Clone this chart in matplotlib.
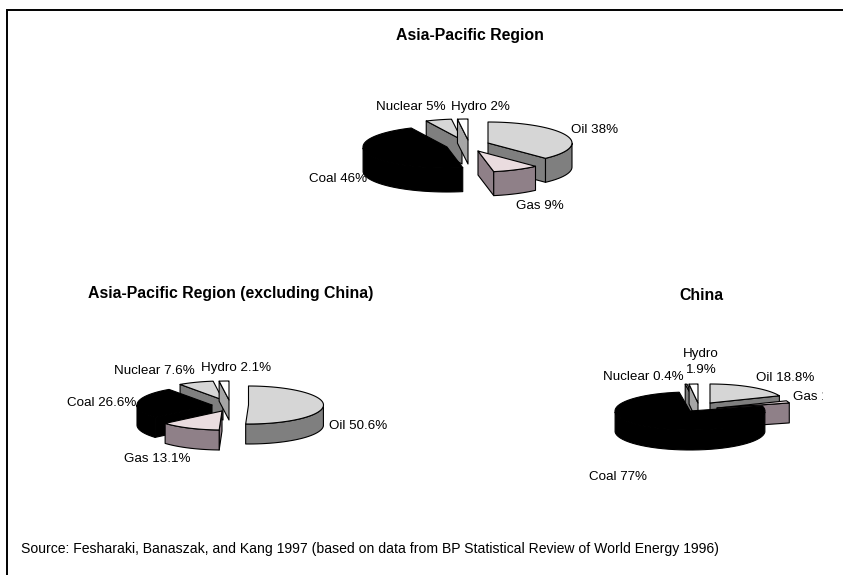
import numpy as np
import matplotlib
matplotlib.use("Agg")
import matplotlib.pyplot as plt
from matplotlib.patches import Polygon, Rectangle

plt.rcParams["font.family"] = ["Liberation Sans", "DejaVu Sans"]

# Primary energy shares, in percent, clockwise from twelve o'clock
fuels = ["Oil", "Gas", "Coal", "Nuclear", "Hydro"]
asia_pacific = [38, 9, 46, 5, 2]
excluding_china = [50.6, 13.1, 26.6, 7.6, 2.1]
china = [18.8, 1.9, 77, 0.4, 1.9]

asia_labels = ["Oil 38%", "Gas 9%", "Coal 46%", "Nuclear 5%", "Hydro 2%"]
excl_labels = ["Oil 50.6%", "Gas 13.1%", "Coal 26.6%", "Nuclear 7.6%", "Hydro 2.1%"]
china_labels = ["Oil 18.8%", "Gas 1.9%", "Coal 77%", "Nuclear 0.4%", "Hydro\n1.9%"]

# Slice colours: (top face, side wall)
TOP = {"Oil": "#d6d6d6", "Gas": "#eadcdf", "Coal": "#000000",
       "Nuclear": "#d6d6d6", "Hydro": "#ffffff"}
SIDE = {"Oil": "#7f7f7f", "Gas": "#8f8088", "Coal": "#000000",
        "Nuclear": "#7f7f7f", "Hydro": "#a6a6a6"}

W, H = 843, 575
fig = plt.figure(figsize=(W / 100, H / 100), dpi=100, facecolor="white")
ax = fig.add_axes([0, 0, 1, 1])
ax.set_xlim(0, W)
ax.set_ylim(H, 0)
ax.axis("off")


def draw_pie(values, apexes, rx, ry, depth):
    """Extruded, exploded pie: each slice gets its own apex on the canvas."""
    shares = np.asarray(values, dtype=float)
    edges = 90 - 360 * np.concatenate([[0], np.cumsum(shares) / shares.sum()])
    # slices further up the canvas are painted first
    for i in sorted(range(len(fuels)), key=lambda k: apexes[k][1]):
        fuel = fuels[i]
        cx, cy = apexes[i]
        start, end = edges[i], edges[i + 1]
        t = np.radians(np.linspace(start, end, 60))
        ax_x = cx + rx * np.cos(t)
        ax_y = cy - ry * np.sin(t)
        style = dict(edgecolor="black", linewidth=0.8, joinstyle="round")

        # radial cut faces turned towards the viewer
        if np.cos(np.radians(start)) < 0:
            ax.add_patch(Polygon([(cx, cy), (ax_x[0], ax_y[0]),
                                  (ax_x[0], ax_y[0] + depth), (cx, cy + depth)],
                                 facecolor=SIDE[fuel], **style))
        if np.cos(np.radians(end)) > 0:
            ax.add_patch(Polygon([(cx, cy), (ax_x[-1], ax_y[-1]),
                                  (ax_x[-1], ax_y[-1] + depth), (cx, cy + depth)],
                                 facecolor=SIDE[fuel], **style))

        # rim: only the arc lying on the near half of the ellipse
        front = np.sin(t) <= 0
        if front.any():
            xs, ys = ax_x[front], ax_y[front]
            rim = np.column_stack([np.r_[xs, xs[::-1]],
                                   np.r_[ys, ys[::-1] + depth]])
            ax.add_patch(Polygon(rim, facecolor=SIDE[fuel], **style))

        top = np.column_stack([np.r_[cx, ax_x], np.r_[cy, ax_y]])
        ax.add_patch(Polygon(top, facecolor=TOP[fuel], **style))


# Exploded slice origins: oil, gas, coal, nuclear, hydro
draw_pie(asia_pacific,
         [(488, 143), (478, 151), (447, 147), (462, 140), (468, 140)],
         84, 21, 24)
draw_pie(excluding_china,
         [(248.5, 405), (222, 411), (212, 405), (223, 400), (229, 400)],
         75, 19, 20)
draw_pie(china,
         [(710, 403), (717, 408), (690, 411), (696, 403), (698, 403)],
         75, 19, 20)

LABEL = dict(fontsize=9.6, color="black", va="center", ha="left")
TITLE = dict(fontsize=11.4, fontweight="bold", color="black", va="center", ha="center")

# Data labels, one list per pie in fuel order
for text, x, y in zip(asia_labels, [571, 516, 309, 376, 451], [130, 206, 179, 107, 107]):
    ax.text(x, y, text, **LABEL)
for text, x, y in zip(excl_labels, [329, 124, 67, 114, 201], [426, 459, 403, 371, 368]):
    ax.text(x, y, text, **LABEL)
for text, x, y in zip(china_labels[:4], [756, 793, 589, 603], [378, 397, 477, 377]):
    label = ax.text(x, y, text, **LABEL)
    # the gas label runs off the edge of its chart area
    label.set_clip_path(Rectangle((0, 0), 823, H, transform=ax.transData))
    label.set_clip_on(True)
ax.text(701, 362, china_labels[4], fontsize=9.6, va="center", ha="center",
        linespacing=1.35)

ax.text(470, 35.5, "Asia-Pacific Region", **TITLE)
ax.text(230.5, 293.5, "Asia-Pacific Region (excluding China)", **TITLE)
ax.text(701, 295.5, "China", **TITLE)
ax.text(21, 549.5, "Source: Fesharaki, Banaszak, and Kang 1997 (based on data from "
                   "BP Statistical Review of World Energy 1996)",
        **{**LABEL, "fontsize": 10.1})

# Open frame along the top and left only
ax.plot([6.5, 6.5, W], [H, 9.5, 9.5], color="black", linewidth=1.4,
        solid_joinstyle="miter", clip_on=False)

fig.savefig("out.png", dpi=100, facecolor="white")
